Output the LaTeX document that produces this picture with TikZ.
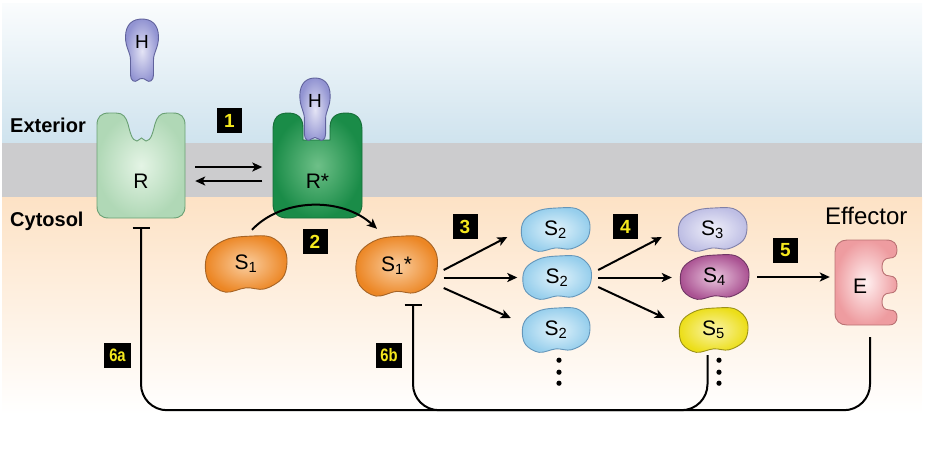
\documentclass[tikz,border=0pt]{standalone}
\usepackage{fontspec}
\setmainfont{Liberation Sans}
\usepackage{graphicx}
\usetikzlibrary{arrows.meta}
\definecolor{extblue}{RGB}{207,227,238}
\definecolor{memgray}{RGB}{204,204,206}
\definecolor{cytpeach}{RGB}{253,226,197}
\definecolor{numyellow}{RGB}{245,232,30}
\definecolor{rlight}{RGB}{176,216,182}
\definecolor{rlightin}{RGB}{228,244,229}
\definecolor{rlightedge}{RGB}{106,160,116}
\definecolor{rdark}{RGB}{26,140,72}
\definecolor{rdarkin}{RGB}{110,192,136}
\definecolor{rdarkedge}{RGB}{22,110,56}
\definecolor{hout}{RGB}{146,148,210}
\definecolor{hin}{RGB}{228,228,245}
\definecolor{hedge}{RGB}{96,98,156}
\definecolor{s1out}{RGB}{236,134,36}
\definecolor{s1in}{RGB}{250,206,160}
\definecolor{s1edge}{RGB}{166,100,38}
\definecolor{s2out}{RGB}{150,206,236}
\definecolor{s2in}{RGB}{226,243,251}
\definecolor{s2edge}{RGB}{100,150,186}
\definecolor{s3out}{RGB}{190,190,228}
\definecolor{s3in}{RGB}{240,240,250}
\definecolor{s3edge}{RGB}{128,128,168}
\definecolor{s4out}{RGB}{170,82,146}
\definecolor{s4in}{RGB}{234,198,222}
\definecolor{s4edge}{RGB}{112,54,100}
\definecolor{s5out}{RGB}{236,222,24}
\definecolor{s5in}{RGB}{250,244,170}
\definecolor{s5edge}{RGB}{156,146,24}
\definecolor{eout}{RGB}{238,156,160}
\definecolor{ein}{RGB}{255,240,240}
\definecolor{eedge}{RGB}{186,114,116}
\pgfdeclarelayer{back}
\pgfdeclarelayer{shapes}
\pgfsetlayers{back,shapes,main}
\newcommand\beanshape[6]{%
  \begin{scope}[shift={(#1.center)}, x=#2pt, y=-#3pt]
    \shadedraw[draw=#6, line width=0.9pt, inner color=#4, outer color=#5]
      plot[smooth cycle, tension=0.6] coordinates {(1.0,-0.05) (0.88,0.5) (0.45,0.86) (0.0,0.82) (-0.5,0.97) (-0.9,0.62) (-0.99,0.0) (-0.86,-0.5) (-0.45,-0.86) (0.1,-0.96) (0.6,-0.93) (0.92,-0.55)};
  \end{scope}}
\newcommand\hormoneshape[2]{%
  \begin{scope}[shift={(#1.center)}, xscale=#2]
    \shadedraw[draw=hedge, line width=0.9pt, inner color=hin, outer color=hout]
      (-16.5,-5) .. controls (-16.5,-18) and (-9,-23) .. (0,-23)
      .. controls (9,-23) and (16.5,-18) .. (16.5,-5)
      .. controls (16.5,6) and (11.5,10) .. (11.5,18) -- (11.5,33)
      .. controls (11.5,39) and (7,41) .. (4,38)
      .. controls (2,36) and (-2,36) .. (-4,38)
      .. controls (-7,41) and (-11.5,39) .. (-11.5,33) -- (-11.5,18)
      .. controls (-11.5,10) and (-16.5,6) .. (-16.5,-5) -- cycle;
  \end{scope}}
\begin{document}
\begin{tikzpicture}[x=1pt,y=-1pt,
  lab/.style={font=\fontsize{21}{23}\selectfont, inner sep=0pt},
  hlab/.style={font=\fontsize{19}{21}\selectfont, inner sep=0pt},
  recep/.style={lab, minimum width=88pt, text height=75.5pt, text depth=29.5pt},
  numbox/.style={fill=black, text=numyellow, font=\fontsize{19}{19}\selectfont\bfseries, minimum width=25pt, minimum height=25pt, inner sep=0pt},
  region/.style={font=\fontsize{20}{22}\selectfont\bfseries, anchor=base west, inner sep=0pt},
  arr/.style={line width=2pt, -{Stealth[length=10pt,width=9pt,inset=2.5pt]}},
  fb/.style={line width=2pt, rounded corners=26pt},
  inhib/.style={-{Bar[width=17pt,line width=2pt]}}
]
\useasboundingbox (0,0) rectangle (926,451);
% background
\begin{pgfonlayer}{back}
  \shade[top color=white!90!extblue, bottom color=extblue] (2,3) rectangle (922,143);
  \fill[memgray] (2,143) rectangle (922,197);
  \shade[top color=cytpeach, bottom color=white] (2,197) rectangle (922,414);
\end{pgfonlayer}
% region labels
\node[region] (ext) at (10,132) {Exterior};
\node[region] (cyt) at (10,226) {Cytosol};
\node[font=\fontsize{24}{26}\selectfont, anchor=base west, inner sep=0pt] (eff) at (825,224) {Effector};
% receptors and hormones
\node[recep] (R) at (141,165.5) {R};
\node[recep] (Rs) at (317.5,165.5) {R*};
\node[hlab] (H1) at (142,42) {H};
\node[hlab] (H2) at (315,101) {H};
% signalling proteins
\node[lab, minimum width=82pt, minimum height=58pt] (S1) at (246,264) {S\textsubscript{1}};
\node[lab, minimum width=82pt, minimum height=62pt] (S1s) at (396.5,266) {S\textsubscript{1}*};
\node[lab, minimum width=69pt, minimum height=45pt] (S2a) at (555.5,229.5) {S\textsubscript{2}};
\node[lab, minimum width=69pt, minimum height=45pt] (S2b) at (557,277.5) {S\textsubscript{2}};
\node[lab, minimum width=68pt, minimum height=46pt] (S2c) at (556,330) {S\textsubscript{2}};
\node[lab, minimum width=69pt, minimum height=45pt] (S3) at (712.5,229.5) {S\textsubscript{3}};
\node[lab, minimum width=69pt, minimum height=46pt] (S4) at (714.5,277) {S\textsubscript{4}};
\node[lab, minimum width=69pt, minimum height=46pt] (S5) at (713.5,330) {S\textsubscript{5}};
\node[lab, minimum width=63pt, text height=53.5pt, text depth=31.5pt] (E) at (866.5,282.5) {E\hspace*{13pt}};
% step numbers
\node[numbox] (n1) at (229.5,120.5) {1};
\node[numbox] (n2) at (315,241.5) {2};
\node[numbox] (n3) at (465,226.5) {3};
\node[numbox] (n4) at (625.5,226.5) {4};
\node[numbox] (n5) at (785.5,250) {5};
\node[numbox, minimum width=27pt, font=\fontsize{18}{18}\selectfont\bfseries] (n6a) at (117.5,355.5) {\scalebox{0.82}[1]{6a}};
\node[numbox, minimum width=26pt, font=\fontsize{18}{18}\selectfont\bfseries] (n6b) at (389,355.5) {\scalebox{0.82}[1]{6b}};
% shapes
\begin{pgfonlayer}{shapes}
  \shadedraw[draw=rlightedge, line width=0.9pt, inner color=rlightin, outer color=rlight]
    (97,125) .. controls (97,117) and (101,113) .. (109,113) -- (116,113)
    .. controls (123,113) and (126,117) .. (128,124)
    .. controls (130,132) and (132,141) .. (137,141)
    .. controls (139,141) and (140,138) .. (141.5,138)
    .. controls (143,138) and (144,141) .. (146,141)
    .. controls (151,141) and (153,132) .. (155,124)
    .. controls (157,117) and (160,113) .. (167,113) -- (173,113)
    .. controls (181,113) and (185,117) .. (185,125) -- (185,206)
    .. controls (185,214) and (181,218) .. (173,218) -- (109,218)
    .. controls (101,218) and (97,214) .. (97,206) -- cycle;
  \shadedraw[draw=rdarkedge, line width=0.9pt, inner color=rdarkin, outer color=rdark]
    (273,130) .. controls (273,118) and (278,113) .. (288,113)
    .. controls (298,113) and (303,118) .. (303,128) -- (303,140) -- (330,140) -- (330,128)
    .. controls (330,118) and (335,113) .. (346,113)
    .. controls (356,113) and (362,118) .. (362,130) -- (362,204)
    .. controls (362,213) and (357,218) .. (348,218) -- (287,218)
    .. controls (278,218) and (273,213) .. (273,204) -- cycle;
  \hormoneshape{H1}{1}
  \hormoneshape{H2}{0.92}
  \beanshape{S1}{41}{29}{s1in}{s1out}{s1edge}
  \beanshape{S1s}{41}{31}{s1in}{s1out}{s1edge}
  \beanshape{S2a}{34.5}{22.5}{s2in}{s2out}{s2edge}
  \beanshape{S2b}{34.5}{22.5}{s2in}{s2out}{s2edge}
  \beanshape{S2c}{34}{23}{s2in}{s2out}{s2edge}
  \beanshape{S3}{34.5}{22.5}{s3in}{s3out}{s3edge}
  \beanshape{S4}{34.5}{23}{s4in}{s4out}{s4edge}
  \beanshape{S5}{34.5}{23}{s5in}{s5out}{s5edge}
  \shadedraw[draw=eedge, line width=0.9pt, inner color=ein, outer color=eout]
    (847,240) -- (886,240) .. controls (894,240) and (897,244) .. (897,250)
    .. controls (897,256) and (894,258) .. (890,258)
    .. controls (884,258) and (882,262) .. (882,267)
    .. controls (882,272) and (884,276) .. (890,276)
    .. controls (895,276) and (897,280) .. (897,285)
    .. controls (897,290) and (895,293) .. (890,293)
    .. controls (884,293) and (882,297) .. (882,302)
    .. controls (882,307) and (884,310) .. (890,310)
    .. controls (895,310) and (897,313) .. (897,317)
    .. controls (897,322) and (894,325) .. (889,325) -- (847,325)
    .. controls (840,325) and (835,321) .. (835,313) -- (835,252)
    .. controls (835,245) and (840,240) .. (847,240) -- cycle;
\end{pgfonlayer}
% step 1: equilibrium
\draw[arr, shorten <=10pt, shorten >=11pt] ([yshift=-1.5pt]R.east) -- ([yshift=-1.5pt]Rs.west);
\draw[arr, shorten <=11pt, shorten >=10pt] ([yshift=-15.5pt]Rs.west) -- ([yshift=-15.5pt]R.east);
% step 2
\draw[arr] ([xshift=6pt,yshift=5pt]S1.north) .. controls +(30,-32) and +(-35,-32) .. ([xshift=-19.5pt,yshift=6pt]S1s.north);
% step 3
\draw[arr] ([xshift=6pt,yshift=-4pt]S1s.east) -- ([xshift=-13.5pt,yshift=-7.5pt]S2a.west);
\draw[arr, shorten <=6pt, shorten >=5pt] (S2b.west -| S1s.east) -- (S2b.west);
\draw[arr] ([xshift=6pt,yshift=-22pt]S1s.east) -- ([xshift=-11pt,yshift=12pt]S2c.west);
% step 4
\draw[arr] ([xshift=6.5pt,yshift=7.5pt]S2b.east) -- ([xshift=-16pt,yshift=-7.5pt]S3.west);
\draw[arr, shorten <=6.5pt, shorten >=8pt] (S2b.east) -- (S2b.east -| S4.west);
\draw[arr] ([xshift=6.5pt,yshift=-9.5pt]S2b.east) -- ([xshift=-14pt,yshift=12pt]S5.west);
% step 5
\draw[arr, shorten <=8pt, shorten >=5pt] (S4.east) -- (S4.east -| E.west);
% dots
\foreach \d in {7,19,30} {
  \fill ([xshift=3pt,yshift=-\d pt]S2c.south) circle (2.6pt);
  \fill ([xshift=5.5pt,yshift=-\d pt]S5.south) circle (2.6pt);
}
% step 6: feedback
\draw[fb, inhib] ([xshift=3.5pt,yshift=-12pt]E.south) |- ([yshift=-192pt]R.south) -- ([yshift=-9pt]R.south);
\draw[fb, inhib] ([xshift=-6pt,yshift=-2pt]S5.south) |- ([xshift=16.5pt,yshift=-113pt]S1s.south) -- ([xshift=16.5pt,yshift=-7pt]S1s.south);
\end{tikzpicture}
\end{document}
